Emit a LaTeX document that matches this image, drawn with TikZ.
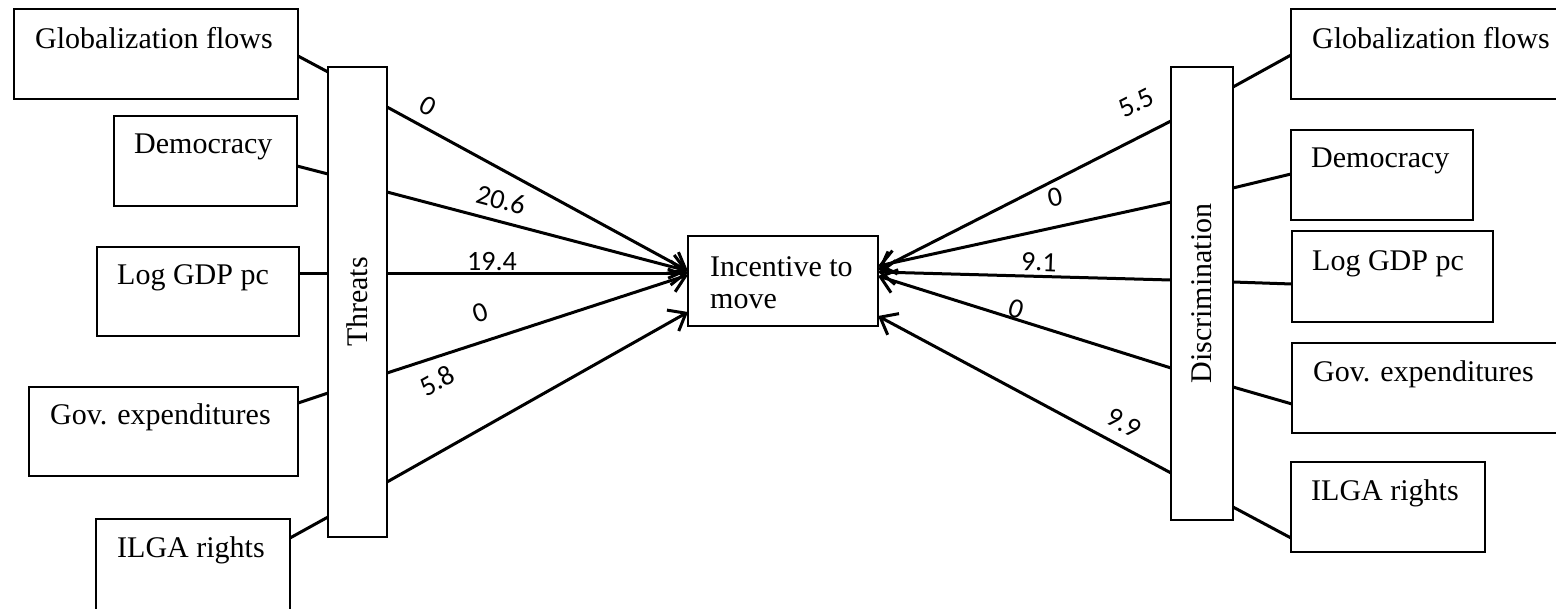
\documentclass[tikz,border=0pt]{standalone}
\usepackage{fontspec}
\setmainfont{Liberation Serif}
\newfontfamily\numfont{Carlito}
\usetikzlibrary{arrows.meta}
\begin{document}
\begin{tikzpicture}[x=1pt,y=-1pt,
  box/.style={draw, line width=1.1pt, rectangle, inner sep=0pt, outer sep=0pt, anchor=north west},
  txt/.style={font=\fontsize{30}{32}\selectfont, inner sep=0pt, anchor=base west},
  vtxt/.style={font=\fontsize{30}{32}\selectfont, inner sep=0pt, rotate=90},
  lnk/.style={line width=3pt},
  arr/.style={line width=3pt, -{Straight Barb[length=15pt,width=24pt]}},
  num/.style={font=\numfont\fontsize{28}{30}\selectfont, inner sep=0pt}]
\useasboundingbox (0,0) rectangle (1556,608);
\clip (0,0) rectangle (1556,608);
% left boxes
\node[box, minimum width=284pt, minimum height=90pt] (Lgl) at (14,9) {};
\node[box, minimum width=183pt, minimum height=90pt] (Ldm) at (114,116) {};
\node[box, minimum width=202pt, minimum height=89pt] (Lgd) at (97,247) {};
\node[box, minimum width=269pt, minimum height=89pt] (Lgv) at (29,387) {};
\node[box, minimum width=194pt, minimum height=110pt] (Lil) at (96,519) {};
\node[txt] (tLgl) at (35,48) {Globalization flows};
\node[txt] (tLdm) at (134,153) {Democracy};
\node[txt] (tLgd) at (117,284) {Log GDP pc};
\node[txt] (tLgv) at (50,424) {Gov. expenditures};
\node[txt] (tLil) at (117,557) {ILGA rights};
% threats
\node[box, minimum width=59pt, minimum height=470pt] (th) at (328,67) {};
\node[vtxt] (tth) at (th.center) {Threats};
% incentive
\node[box, minimum width=190pt, minimum height=90pt] (inc) at (688,236) {};
\node[txt] (tinc1) at (710,276) {Incentive to};
\node[txt] (tinc2) at (710,308) {move};
% discrimination
\node[box, minimum width=62pt, minimum height=453pt] (di) at (1171,67) {};
\node[vtxt] (tdi) at (di.center) {Discrimination};
% right boxes
\node[box, minimum width=290pt, minimum height=90pt] (Rgl) at (1291,9) {};
\node[box, minimum width=182pt, minimum height=90pt] (Rdm) at (1291,130) {};
\node[box, minimum width=201pt, minimum height=91pt] (Rgd) at (1292,231) {};
\node[box, minimum width=290pt, minimum height=90pt] (Rgv) at (1292,343) {};
\node[box, minimum width=194pt, minimum height=90pt] (Ril) at (1291,462) {};
\node[txt] (tRgl) at (1312,48) {Globalization flows};
\node[txt] (tRdm) at (1311,167) {Democracy};
\node[txt] (tRgd) at (1312,270) {Log GDP pc};
\node[txt] (tRgv) at (1313,381) {Gov. expenditures};
\node[txt] (tRil) at (1311,500) {ILGA rights};
% left links
\draw[lnk] ([yshift=-47pt]Lgl.north east) -- ([yshift=-5pt]th.north west);
\draw[lnk] ([yshift=-50pt]Ldm.north east) -- ([yshift=-107pt]th.north west);
\draw[lnk] ([yshift=-26pt]Lgd.north east) -- ([yshift=-206pt]th.north west);
\draw[lnk] ([yshift=-16pt]Lgv.north east) -- ([yshift=-326pt]th.north west);
\draw[lnk] ([yshift=-19pt]Lil.north east) -- ([yshift=-450pt]th.north west);
% right links
\draw[lnk] ([yshift=-20pt]di.north east) -- ([yshift=-46pt]Rgl.north west);
\draw[lnk] ([yshift=-121pt]di.north east) -- ([yshift=-44pt]Rdm.north west);
\draw[lnk] ([yshift=-215pt]di.north east) -- ([yshift=-53pt]Rgd.north west);
\draw[lnk] ([yshift=-320pt]di.north east) -- ([yshift=-61pt]Rgv.north west);
\draw[lnk] ([yshift=-440pt]di.north east) -- ([yshift=-76pt]Ril.north west);
% threats arrows
\draw[arr] ([yshift=-40pt]th.north east) -- ([yshift=10pt]inc.west);
\draw[arr] ([yshift=-125pt]th.north east) -- ([yshift=10pt]inc.west);
\draw[arr] ([yshift=-206pt]th.north east) -- ([yshift=8pt]inc.west);
\draw[arr] ([yshift=-306pt]th.north east) -- ([yshift=6pt]inc.west);
\draw[arr] ([yshift=-415pt]th.north east) -- ([yshift=-31pt]inc.west);
% discrimination arrows
\draw[arr] ([yshift=-54pt]di.north west) -- ([yshift=11pt]inc.east);
\draw[arr] ([yshift=-135pt]di.north west) -- ([yshift=15pt]inc.east);
\draw[arr] ([yshift=-213pt]di.north west) -- ([yshift=9pt]inc.east);
\draw[arr] ([yshift=-301pt]di.north west) -- ([yshift=5pt]inc.east);
\draw[arr] ([yshift=-406pt]di.north west) -- ([yshift=-35pt]inc.east);
% labels
\node[num, rotate=-29] (n1) at (428,106) {0};
\node[num, rotate=-15] (n2) at (501,200) {20.6};
\node[num] (n3) at (492,262) {19.4};
\node[num, rotate=18] (n4) at (480,313) {0};
\node[num, rotate=29] (n5) at (437,381) {5.8};
\node[num, rotate=27] (m1) at (1136,103) {5.5};
\node[num, rotate=12] (m2) at (1055,197) {0};
\node[num, rotate=-2] (m3) at (1039,262) {9.1};
\node[num, rotate=-17] (m4) at (1016,309) {0};
\node[num, rotate=-28] (m5) at (1124,423) {9.9};
\end{tikzpicture}
\end{document}
